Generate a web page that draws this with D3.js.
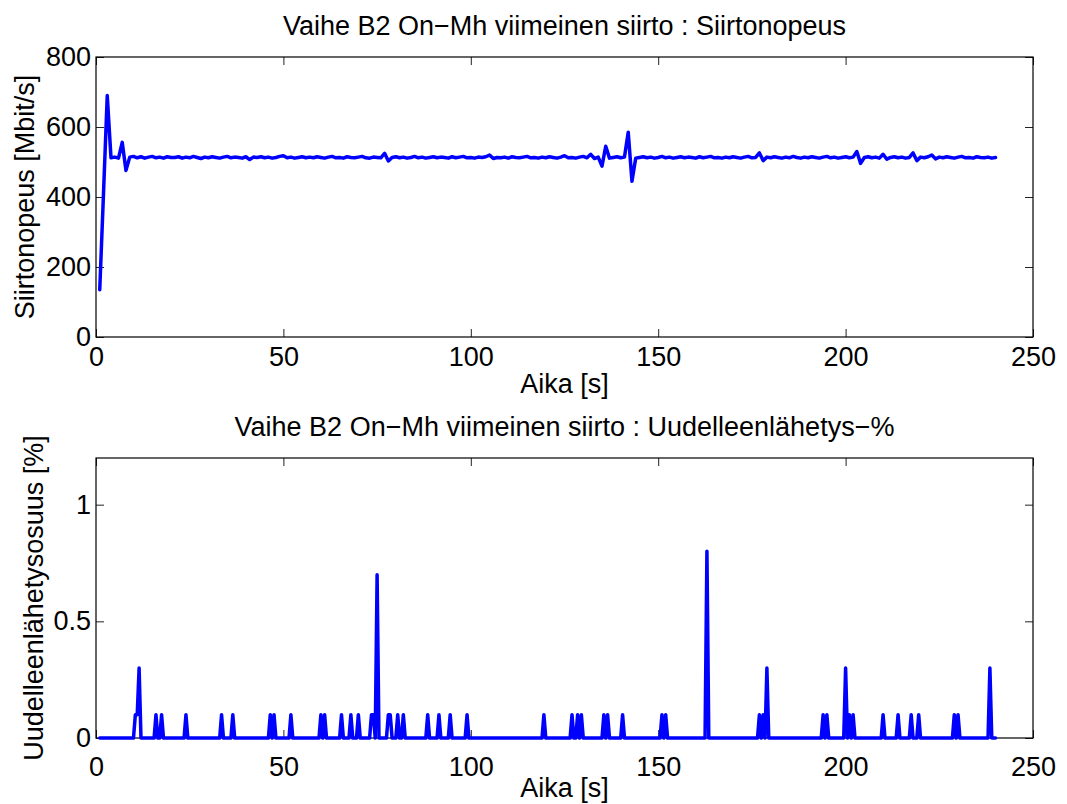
<!DOCTYPE html>
<html>
<head>
<meta charset="utf-8">
<script src="https://cdn.jsdelivr.net/npm/d3@7"></script>
<style>
  body { margin: 0; background: #fff; }
  svg text { font-family: "Liberation Sans", Arial, sans-serif; fill: #000; }
</style>
</head>
<body>
<div id="chart"></div>
<script>
// transfer rate samples, one per second starting at t = 1 s
const rateStart = 1;
const rateValues = [
  135, 410, 690, 512, 514, 511, 556, 476, 514, 516, 512, 515, 511, 514, 516, 512, 514, 511, 515, 513,
  513, 515, 511, 514, 512, 516, 513, 510, 514, 512, 515, 513, 511, 514, 516, 512, 514, 513, 511, 515,
  507, 514, 513, 515, 512, 514, 511, 513, 516, 518, 512, 514, 511, 513, 515, 512, 514, 512, 515, 513,
  511, 514, 516, 512, 513, 511, 515, 513, 512, 514, 516, 512, 511, 514, 513, 512, 525, 503, 513, 515,
  512, 514, 511, 513, 516, 512, 514, 511, 513, 515, 512, 514, 513, 511, 515, 512, 514, 516, 512, 513,
  511, 514, 513, 515, 520, 510, 513, 512, 514, 511, 515, 513, 512, 514, 516, 512, 513, 511, 514, 512,
  515, 513, 511, 514, 518, 512, 513, 511, 514, 516, 512, 522, 510, 514, 488, 545, 511, 513, 515, 512,
  514, 585, 445, 511, 513, 515, 512, 514, 511, 513, 516, 512, 514, 511, 513, 515, 512, 514, 513, 511,
  515, 512, 514, 516, 512, 513, 511, 514, 512, 515, 513, 511, 514, 516, 512, 513, 526, 504, 514, 512,
  515, 513, 511, 514, 512, 516, 513, 511, 514, 512, 515, 513, 511, 514, 516, 512, 514, 511, 513, 515,
  512, 514, 530, 496, 513, 515, 512, 514, 511, 522, 508, 513, 515, 512, 514, 511, 513, 526, 504, 514,
  512, 515, 520, 509, 514, 512, 515, 513, 511, 514, 516, 512, 513, 511, 515, 513, 512, 514, 511, 513
];

// retransmission share: sampled every 0.5 s from 1 s to 240 s, zero except at these times
const retransStep = 0.5;
const retransRange = [1, 240];
const spikeTimes = [
  10.5, 11, 11.5, 16, 17.5, 24, 33.5, 36.5, 46.5, 47.5, 52, 60, 61, 65.5, 68, 70, 73.5, 74, 75,
  78, 78.5, 80.5, 82, 88.5, 91.5, 94.5, 99, 119.5, 127, 128.5, 129.5, 135.5, 136.5, 140.5, 151, 152,
  163, 177, 178, 179, 194, 195, 200, 201, 202, 210, 214, 217.5, 219.5, 229, 230, 238.5
];
const spikeValues = [
  0.1, 0.1, 0.3, 0.1, 0.1, 0.1, 0.1, 0.1, 0.1, 0.1, 0.1, 0.1, 0.1, 0.1, 0.1, 0.1, 0.1, 0.1, 0.7,
  0.1, 0.1, 0.1, 0.1, 0.1, 0.1, 0.1, 0.1, 0.1, 0.1, 0.1, 0.1, 0.1, 0.1, 0.1, 0.1, 0.1,
  0.8, 0.1, 0.1, 0.3, 0.1, 0.1, 0.3, 0.1, 0.1, 0.1, 0.1, 0.1, 0.1, 0.1, 0.1, 0.3
];

const xTicks = [0, 50, 100, 150, 200, 250];
const rateTicks = [0, 200, 400, 600, 800];
const retransTicks = [0, 0.5, 1];

const titles = [
  'Vaihe B2 On\u2212Mh viimeinen siirto : Siirtonopeus',
  'Vaihe B2 On\u2212Mh viimeinen siirto : Uudelleenl\u00e4hetys\u2212%'
];
const xLabel = 'Aika [s]';
const yLabels = ['Siirtonopeus [Mbit/s]', 'Uudelleenl\u00e4hetysosuus [%]'];

const width = 1067;
const height = 804;
const fontSize = 27;

const svg = d3.select('#chart').append('svg')
  .attr('width', width)
  .attr('height', height);

const rateData = rateValues.map((v, i) => ({ t: rateStart + i, v }));
const spikeMap = new Map(spikeTimes.map((t, i) => [t, spikeValues[i]]));
const retransData = d3.range(retransRange[0], retransRange[1] + retransStep / 2, retransStep)
  .map(t => ({ t, v: spikeMap.has(t) ? spikeMap.get(t) : 0 }));

const drawPanel = (opts) => {
  const { box, data, yDomain, yTicks, yFormat, title, yLabel, titleY, xLabelPad, xTitleY, yTitleX } = opts;
  const innerW = box.right - box.left;
  const innerH = box.bottom - box.top;

  const g = svg.append('g')
    .attr('transform', `translate(${box.left}, ${box.top})`);

  const xScale = d3.scaleLinear().domain([0, 250]).range([0, innerW]);
  const yScale = d3.scaleLinear().domain(yDomain).range([innerH, 0]);

  const tickStyle = AxisG => {
    AxisG.select('.domain').remove();
    AxisG.selectAll('line').attr('stroke', '#222').attr('stroke-width', 1);
    AxisG.selectAll('text')
      .attr('font-size', fontSize)
      .attr('font-family', '"Liberation Sans", Arial, sans-serif')
      .attr('fill', '#000');
  };

  g.append('g')
    .attr('transform', `translate(0, ${innerH})`)
    .call(d3.axisBottom(xScale).tickValues(xTicks).tickSizeInner(-8).tickSizeOuter(0)
      .tickPadding(xLabelPad).tickFormat(d3.format('d')))
    .call(tickStyle);
  g.append('g')
    .call(d3.axisTop(xScale).tickValues(xTicks).tickSizeInner(-8).tickSizeOuter(0).tickFormat(''))
    .call(tickStyle);
  g.append('g')
    .call(d3.axisLeft(yScale).tickValues(yTicks).tickSizeInner(-8).tickSizeOuter(0)
      .tickPadding(5).tickFormat(yFormat))
    .call(tickStyle);
  g.append('g')
    .attr('transform', `translate(${innerW}, 0)`)
    .call(d3.axisRight(yScale).tickValues(yTicks).tickSizeInner(-8).tickSizeOuter(0).tickFormat(''))
    .call(tickStyle);

  g.append('rect')
    .attr('width', innerW)
    .attr('height', innerH)
    .attr('fill', 'none')
    .attr('stroke', '#000')
    .attr('stroke-width', 1.2);

  const line = d3.line()
    .x(d => xScale(d.t))
    .y(d => yScale(d.v));

  g.append('path')
    .datum(data)
    .attr('d', line)
    .attr('fill', 'none')
    .attr('stroke', '#0000ff')
    .attr('stroke-width', 3.5)
    .attr('stroke-linejoin', 'round')
    .attr('stroke-linecap', 'round');

  svg.append('text')
    .attr('x', (box.left + box.right) / 2)
    .attr('y', titleY)
    .attr('text-anchor', 'middle')
    .attr('font-size', fontSize)
    .text(title);

  svg.append('text')
    .attr('x', (box.left + box.right) / 2)
    .attr('y', xTitleY)
    .attr('text-anchor', 'middle')
    .attr('font-size', fontSize)
    .text(xLabel);

  svg.append('text')
    .attr('transform', `translate(${yTitleX}, ${(box.top + box.bottom) / 2}) rotate(-90)`)
    .attr('text-anchor', 'middle')
    .attr('font-size', fontSize)
    .text(yLabel);
};

drawPanel({
  box: { left: 96, right: 1033, top: 57, bottom: 337 },
  data: rateData,
  yDomain: [0, 800],
  yTicks: rateTicks,
  yFormat: d3.format('d'),
  title: titles[0],
  yLabel: yLabels[0],
  titleY: 35,
  xLabelPad: 10,
  xTitleY: 393,
  yTitleX: 34
});

drawPanel({
  box: { left: 96, right: 1033, top: 458, bottom: 738 },
  data: retransData,
  yDomain: [0, 1.2],
  yTicks: retransTicks,
  yFormat: d => d === 0.5 ? '0.5' : d3.format('d')(d),
  title: titles[1],
  yLabel: yLabels[1],
  titleY: 436,
  xLabelPad: 19,
  xTitleY: 797,
  yTitleX: 43
});
</script>
</body>
</html>
